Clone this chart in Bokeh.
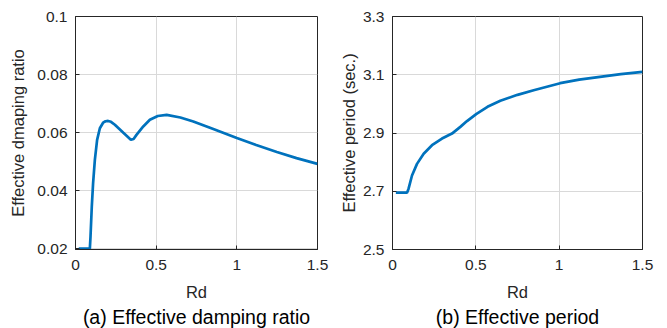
from bokeh.plotting import figure
from bokeh.layouts import row
from bokeh.models import Range1d, FixedTicker, Title
from bokeh.embed import file_html
from bokeh.resources import INLINE

# ---- data ----
rd_a = [0.02, 0.05, 0.089, 0.093, 0.101, 0.109, 0.12, 0.134, 0.151, 0.171, 0.186, 0.202,
        0.22, 0.244, 0.295, 0.343, 0.36, 0.378, 0.42, 0.461, 0.51, 0.565, 0.65, 0.73,
        0.85, 1.0, 1.12, 1.248, 1.37, 1.5]
zeta_eff = [0.02, 0.02, 0.02, 0.0241, 0.0345, 0.0425, 0.0506, 0.0575, 0.0615, 0.0634, 0.0639, 0.064,
            0.0637, 0.0627, 0.06, 0.0575, 0.0578, 0.0592, 0.0621, 0.0644, 0.0657, 0.0661, 0.0652, 0.0638,
            0.0613, 0.0581, 0.0557, 0.0533, 0.0512, 0.0492]

rd_b = [0.02, 0.05, 0.087, 0.096, 0.117, 0.147, 0.187, 0.237, 0.297, 0.357, 0.407,
        0.447, 0.502, 0.57, 0.647, 0.75, 0.847, 1.006, 1.12, 1.245, 1.37, 1.5]
t_eff = [2.695, 2.695, 2.695, 2.708, 2.754, 2.794, 2.829, 2.858, 2.881, 2.898, 2.921,
         2.941, 2.965, 2.990, 3.011, 3.031, 3.047, 3.071, 3.083, 3.093, 3.102, 3.110]

x_ticks = [0, 0.5, 1, 1.5]
x_tick_labels = ["0", "0.5", "1", "1.5"]
ya_ticks = [0.02, 0.04, 0.06, 0.08, 0.1]
ya_tick_labels = ["0.02", "0.04", "0.06", "0.08", "0.1"]
yb_ticks = [2.5, 2.7, 2.9, 3.1, 3.3]
yb_tick_labels = ["2.5", "2.7", "2.9", "3.1", "3.3"]

FONT = "Liberation Sans"
TXT = "#262626"
LINE = "#0072BD"


def make_panel(x, y, yticks, ylabels, ylabel, caption, width, left, right, ypad, ylab_standoff):
    p = figure(width=width, height=328, output_backend="svg", toolbar_location=None,
               x_range=Range1d(x_ticks[0], x_ticks[-1]),
               y_range=Range1d(yticks[0] - ypad, yticks[-1]),
               min_border_left=left, min_border_right=right,
               min_border_top=16, min_border_bottom=79)
    p.background_fill_color = "white"
    p.border_fill_color = "white"
    p.outline_line_color = TXT
    p.outline_line_width = 1
    p.outline_line_alpha = 1

    p.line(x, y, line_color=LINE, line_width=2.7)

    p.xaxis.ticker = FixedTicker(ticks=x_ticks)
    p.yaxis.ticker = FixedTicker(ticks=yticks)
    p.xaxis.major_label_overrides = {t: l for t, l in zip(x_ticks, x_tick_labels)}
    p.yaxis.major_label_overrides = {t: l for t, l in zip(yticks, ylabels)}

    for ax in (p.xaxis[0], p.yaxis[0]):
        ax.axis_line_color = TXT
        ax.major_tick_line_color = TXT
        ax.major_tick_in = 4
        ax.major_tick_out = 0
        ax.minor_tick_line_color = None
        ax.major_label_text_font = FONT
        ax.major_label_text_font_size = "15.5px"
        ax.major_label_text_color = TXT
        ax.axis_label_text_font = FONT
        ax.axis_label_text_font_size = "16.5px"
        ax.axis_label_text_font_style = "normal"
        ax.axis_label_text_color = TXT

    p.xaxis.axis_label = "Rd"
    p.xaxis.major_label_standoff = 10
    p.xaxis.axis_label_standoff = 10
    p.yaxis.axis_label = ylabel
    p.yaxis.major_label_standoff = 8
    p.yaxis.axis_label_standoff = ylab_standoff

    p.xgrid.ticker = FixedTicker(ticks=x_ticks)
    p.ygrid.ticker = FixedTicker(ticks=yticks)
    for g in (p.xgrid[0], p.ygrid[0]):
        g.grid_line_color = "#d9d9d9"
        g.grid_line_width = 1

    p.add_layout(Title(text=caption, align="center", text_font=FONT,
                       text_font_size="19.5px", text_font_style="normal",
                       text_color="black", standoff=0), "below")
    return p


pa = make_panel(rd_a, zeta_eff, ya_ticks, ya_tick_labels, "Effective dmaping ratio",
                "(a) Effective damping ratio", 334, 75, 17, 0.0003, 7)
pb = make_panel(rd_b, t_eff, yb_ticks, yb_tick_labels, "Effective period (sec.)",
                "(b) Effective period", 333, 58, 25, 0.0, 2)

layout = row(pa, pb)
open("out.html", "w").write(file_html(layout, INLINE))
